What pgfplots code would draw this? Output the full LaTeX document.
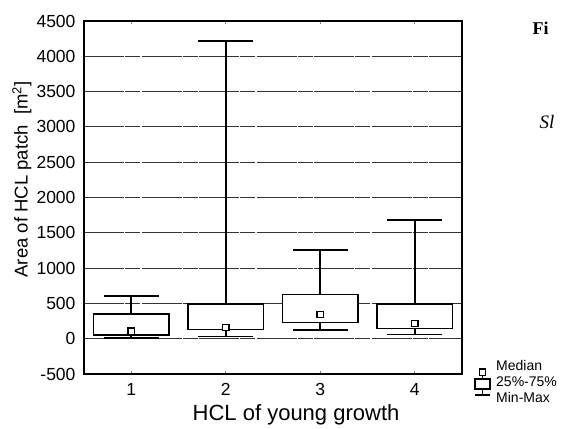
\documentclass[border=0pt]{standalone}
\usepackage{fontspec}
\setmainfont{Liberation Sans}
\newfontfamily\lserif{Liberation Serif}
\usepackage{pgfplots}
\pgfplotsset{compat=1.18}
\begin{document}
\begin{tikzpicture}
\path (0pt,0pt) rectangle (561pt,-424pt);
\begin{axis}[
  at={(84pt,-21pt)}, anchor=north west,
  scale only axis, width=378pt, height=353pt,
  xmin=0.5, xmax=4.5, ymin=-500, ymax=4500,
  xtick={1,2,3,4}, ytick={-500,0,500,1000,1500,2000,2500,3000,3500,4000,4500},
  scaled y ticks=false,
  unbounded coords=jump,
  /pgf/number format/1000 sep={},
  /pgf/number format/assume math mode=true,
  tick label style={font=\fontsize{17.5}{19}\selectfont},
  xticklabel style={yshift=-6pt},
  yticklabel style={xshift=-5pt},
  major tick length=3pt,
  ytick style={draw=none},
  xtick style={line width=1.2pt},
  xtick pos=both,
  axis line style={line width=1.8pt},
  ymajorgrids,
  grid style={black!80, line width=1pt, dash pattern=on 40pt off 1pt on 15pt off 1.5pt},
  xlabel={HCL of young growth},
  ylabel={Area of HCL patch\ \ [m\textsuperscript{2}]},
  xlabel style={font=\fontsize{22}{24}\selectfont, at={(axis description cs:0.561,-0.131)}, anchor=base},
  ylabel style={font=\fontsize{18.5}{20}\selectfont, at={(axis description cs:-0.164,0.551)}, anchor=center},
]
% whiskers (min / max with caps)
\addplot[black, line width=1.6pt] coordinates {
  (1,355) (1,605) (nan,nan) (0.71,605) (1.29,605) (nan,nan)
  (1,55) (1,10) (nan,nan) (0.71,10) (1.29,10) (nan,nan)
  (2,490) (2,4220) (nan,nan) (1.71,4220) (2.29,4220) (nan,nan)
  (2,130) (2,30) (nan,nan) (1.71,30) (2.29,30) (nan,nan)
  (3,625) (3,1260) (nan,nan) (2.71,1260) (3.29,1260) (nan,nan)
  (3,230) (3,120) (nan,nan) (2.71,120) (3.29,120) (nan,nan)
  (4,490) (4,1680) (nan,nan) (3.71,1680) (4.29,1680) (nan,nan)
  (4,145) (4,57) (nan,nan) (3.71,57) (4.29,57)
};
% boxes (25%-75%)
\addplot[black, line width=1.8pt, fill=white] coordinates {(0.6,55) (1.4,55) (1.4,355) (0.6,355)} -- cycle;
\addplot[black, line width=1.8pt, fill=white] coordinates {(1.6,130) (2.4,130) (2.4,490) (1.6,490)} -- cycle;
\addplot[black, line width=1.8pt, fill=white] coordinates {(2.6,230) (3.4,230) (3.4,625) (2.6,625)} -- cycle;
\addplot[black, line width=1.8pt, fill=white] coordinates {(3.6,145) (4.4,145) (4.4,490) (3.6,490)} -- cycle;
% medians
\addplot[only marks, mark=square*, mark size=3.2pt,
  mark options={fill=white, draw=black, line width=1.3pt}]
  coordinates {(1,105) (2,160) (3,345) (4,215)};
\end{axis}
% legend key (outside the axis, lower right)
\begin{scope}[line width=1.2pt]
\draw (479.5pt,-369pt) rectangle (485.5pt,-375.5pt);
\draw (482.5pt,-375.5pt) -- (482.5pt,-379pt);
\draw (475pt,-379pt) rectangle (490pt,-389pt);
\draw (482.5pt,-389pt) -- (482.5pt,-395pt);
\draw (475pt,-395pt) -- (490pt,-395pt);
\end{scope}
\begin{scope}[every node/.style={anchor=west, inner sep=0pt, font=\fontsize{14}{15}\selectfont}]
\node at (496pt,-365pt) {Median};
\node at (496pt,-381.5pt) {25\%-75\%};
\node at (496pt,-397.5pt) {Min-Max};
\end{scope}
\node[anchor=base west, font=\lserif\bfseries\fontsize{18}{19}\selectfont] at (529pt,-34pt) {Fi};
\node[anchor=base west, font=\lserif\itshape\fontsize{19}{20}\selectfont] at (536pt,-128pt) {Sl};
\end{tikzpicture}
\end{document}
